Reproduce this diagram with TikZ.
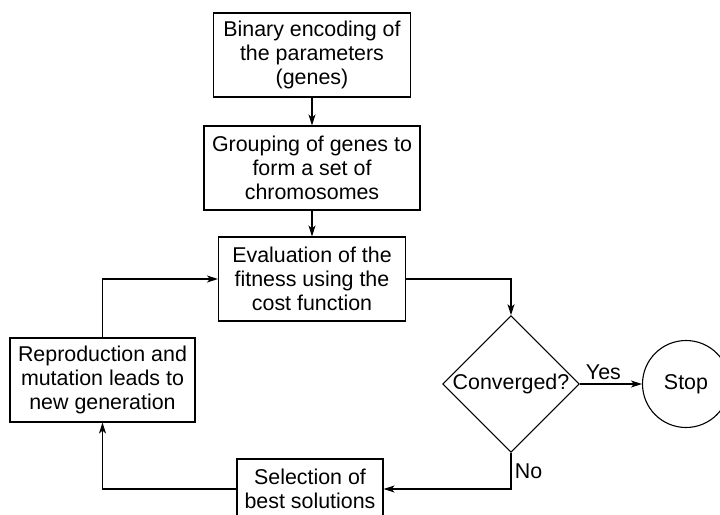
\documentclass[tikz,border=0pt]{standalone}
\usepackage{fontspec}
\setmainfont{Liberation Sans}
\usetikzlibrary{shapes.geometric}
\usetikzlibrary{arrows.meta}
\tikzset{>={Stealth[length=11pt, width=7pt, inset=3pt]}}

\begin{document}
\begin{tikzpicture}[x=1pt, y=-1pt]
                % pixel-like coordinates, y grows downwards
                \tikzstyle{every node}=[font=\fontsize{21.4}{24}\selectfont]
                \tikzstyle{box}=[rectangle, draw=black, line width=1.1pt, align=center, inner sep=0pt]
                \tikzstyle{flow}=[->, black, line width=1.1pt]
                \useasboundingbox (0, 0) rectangle (720, 514);

                \node[box, minimum width=197, minimum height=84] (enc) at (312, 55) {Binary encoding of\\the parameters\\(genes)};
                \node[box, minimum width=216, minimum height=84] (grp) at (312, 168) {Grouping of genes to\\form a set of\\chromosomes};
                \node[box, minimum width=187, minimum height=84] (eval) at (312, 279) {Evaluation of the\\fitness using the\\cost function};
                \node[diamond, draw=black, line width=1.1pt, inner sep=0pt, aspect=1, minimum width=134, minimum height=134] (conv) at (511, 384) {Converged?};
                \node[circle, draw=black, line width=1.1pt, minimum size=87] (stop) at (686, 384) {Stop};
                \node[box, minimum width=146, minimum height=60] (sel) at (310, 489) {Selection of\\best solutions};
                \node[box, minimum width=185, minimum height=84] (rep) at (102.5, 380) {Reproduction and\\mutation leads to\\new generation};

                \draw[flow] (enc) -- (grp);
                \draw[flow] (grp) -- (eval);
                \draw[flow] (eval.east) -| (conv.north);
                \draw[flow] (conv.east) -- node[above, pos=0.38] {Yes} (stop.west);
                \draw[flow] (conv.south) |- node[right, pos=0.25] {No} (sel.east);
                \draw[flow] (sel.west) -| (rep.south);
                \draw[flow] (rep.north) |- (eval.west);
\end{tikzpicture}
\end{document}
